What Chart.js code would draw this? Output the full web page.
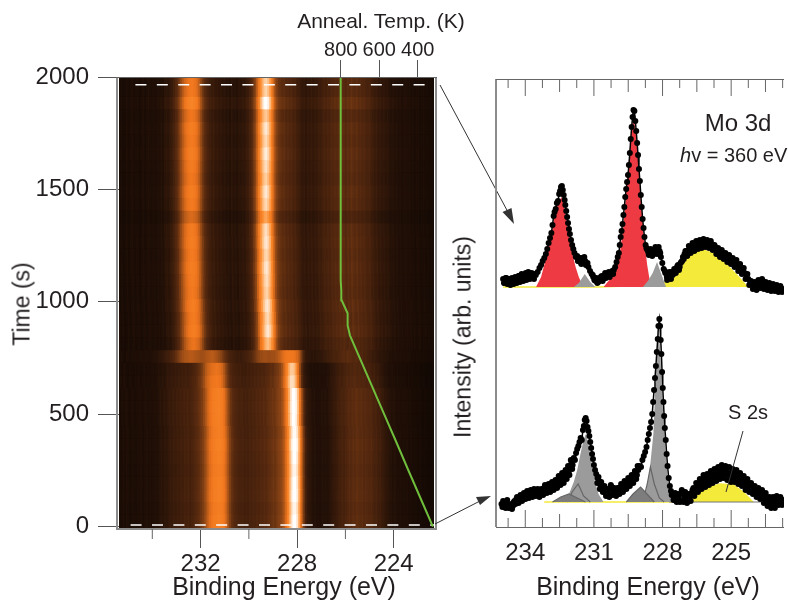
<!DOCTYPE html>
<html>
<head>
<meta charset="utf-8">
<title>Mo 3d anneal</title>
<script src="https://cdn.jsdelivr.net/npm/chart.js@4"></script>
<style>
html, body { margin: 0; padding: 0; background: #fff; overflow: hidden; }
#page { position: relative; width: 788px; height: 600px; overflow: hidden; font-family: "Liberation Sans", Arial, sans-serif; color: #231f20; }
canvas { position: absolute; top: 0; }
#heat { left: 0; }
#spectra { left: 450px; }
.txt { position: absolute; white-space: nowrap; transform: translate(-50%, -50%); }
.rot { transform: translate(-50%, -50%) rotate(-90deg); }
</style>
</head>
<body>
<div id="page">
  <canvas id="heat" width="788" height="600"></canvas>
  <canvas id="spectra" width="338" height="600"></canvas>
  <div class="txt" style="left:381px;top:21px;font-size:21px">Anneal. Temp. (K)</div>
  <div class="txt rot" style="left:22px;top:304px;font-size:23px">Time (s)</div>
  <div class="txt" style="left:284px;top:586px;font-size:25px">Binding Energy (eV)</div>
  <div class="txt rot" style="left:463px;top:337px;font-size:23px">Intensity (arb. units)</div>
  <div class="txt" style="left:648px;top:586px;font-size:25px">Binding Energy (eV)</div>
  <div class="txt" style="left:738px;top:123px;font-size:24px">Mo 3d</div>
  <div class="txt" style="left:680px;top:155px;font-size:20px;transform:translate(0,-50%)"><i>h</i>v = 360 eV</div>
  <div class="txt" style="left:748px;top:412px;font-size:20px">S 2s</div>
</div>
<script>
// left panel: one intensity value per column
const energyColumns = [
  235.380,235.305,235.230,235.155,235.080,235.005,234.930,234.855,234.780,234.705,
  234.630,234.555,234.480,234.405,234.330,234.255,234.180,234.105,234.030,233.955,
  233.880,233.805,233.730,233.655,233.580,233.505,233.430,233.355,233.280,233.205,
  233.130,233.055,232.980,232.905,232.830,232.755,232.680,232.605,232.530,232.455,
  232.380,232.305,232.230,232.155,232.080,232.005,231.930,231.855,231.780,231.705,
  231.630,231.555,231.480,231.405,231.330,231.255,231.180,231.105,231.030,230.955,
  230.880,230.805,230.730,230.655,230.580,230.505,230.430,230.355,230.280,230.205,
  230.130,230.055,229.980,229.905,229.830,229.755,229.680,229.605,229.530,229.455,
  229.380,229.305,229.230,229.155,229.080,229.005,228.930,228.855,228.780,228.705,
  228.630,228.555,228.480,228.405,228.330,228.255,228.180,228.105,228.030,227.955,
  227.880,227.805,227.730,227.655,227.580,227.505,227.430,227.355,227.280,227.205,
  227.130,227.055,226.980,226.905,226.830,226.755,226.680,226.605,226.530,226.455,
  226.380,226.305,226.230,226.155,226.080,226.005,225.930,225.855,225.780,225.705,
  225.630,225.555,225.480,225.405,225.330,225.255,225.180,225.105,225.030,224.955,
  224.880,224.805,224.730,224.655,224.580,224.505,224.430,224.355,224.280,224.205,
  224.130,224.055,223.980,223.905,223.830,223.755,223.680,223.605,223.530,223.455,
  223.380,223.305,223.230,223.155,223.080,223.005,222.930,222.855,222.780,222.705,
  222.630,222.555,222.480,222.405,222.330
];
const profileAnnealed = [
  .10,.12,.09,.11,.13,.10,.12,.14,.11,.12,
  .13,.10,.12,.14,.11,.13,.15,.12,.13,.14,
  .12,.15,.14,.16,.15,.18,.19,.18,.21,.23,
  .26,.30,.33,.40,.47,.54,.60,.64,.67,.69,
  .70,.68,.66,.62,.55,.46,.38,.32,.29,.26,
  .24,.22,.23,.20,.21,.19,.20,.18,.19,.17,
  .18,.16,.19,.17,.18,.16,.19,.18,.20,.19,
  .22,.23,.27,.30,.37,.44,.58,.70,.80,.88,
  .94,.96,.92,.85,.74,.60,.47,.40,.36,.34,
  .32,.33,.30,.31,.29,.30,.27,.28,.25,.24,
  .22,.20,.21,.19,.21,.20,.22,.20,.22,.21,
  .24,.23,.25,.27,.26,.28,.27,.30,.29,.31,
  .30,.32,.31,.33,.32,.30,.33,.31,.34,.32,
  .31,.33,.30,.31,.29,.30,.28,.27,.28,.25,
  .24,.22,.23,.20,.21,.19,.20,.18,.19,.17,
  .16,.17,.15,.16,.14,.15,.13,.14,.15,.13,
  .14,.12,.13,.11,.12,.13,.10,.11,.12,.10,
  .11,.09,.10,.08,.09
];
const profileTransition = [
  .10,.12,.11,.10,.13,.12,.11,.13,.12,.13,
  .13,.12,.14,.13,.14,.15,.13,.14,.15,.16,
  .16,.17,.18,.19,.20,.22,.23,.24,.26,.28,
  .30,.33,.36,.40,.44,.47,.49,.50,.51,.52,
  .52,.51,.50,.49,.48,.47,.47,.48,.50,.51,
  .52,.53,.52,.50,.48,.45,.42,.38,.34,.31,
  .28,.26,.25,.24,.23,.22,.23,.22,.23,.24,
  .25,.26,.28,.30,.33,.36,.40,.43,.45,.46,
  .47,.47,.46,.46,.47,.47,.48,.50,.53,.56,
  .60,.63,.65,.66,.66,.66,.65,.63,.60,.55,
  .44,.32,.24,.20,.19,.18,.17,.18,.17,.18,
  .19,.18,.20,.21,.22,.23,.24,.25,.26,.27,
  .27,.28,.29,.30,.31,.30,.32,.31,.31,.30,
  .30,.31,.29,.28,.29,.27,.27,.25,.24,.23,
  .22,.21,.20,.19,.18,.18,.17,.17,.16,.15,
  .15,.14,.15,.14,.13,.14,.12,.13,.12,.12,
  .12,.11,.11,.10,.11,.10,.10,.09,.10,.09,
  .09,.08,.09,.08,.08
];
const profileInitial = [
  .12,.10,.13,.11,.14,.12,.10,.13,.12,.11,
  .13,.12,.14,.11,.13,.15,.12,.14,.13,.14,
  .15,.14,.16,.18,.17,.19,.18,.20,.22,.21,
  .23,.22,.24,.23,.25,.24,.26,.25,.27,.25,
  .27,.28,.30,.31,.33,.36,.39,.44,.50,.57,
  .62,.65,.68,.69,.70,.71,.70,.68,.64,.57,
  .48,.40,.34,.31,.29,.28,.27,.26,.27,.25,
  .26,.25,.27,.26,.28,.27,.29,.28,.30,.29,
  .31,.30,.32,.33,.34,.36,.35,.38,.40,.42,
  .46,.52,.62,.72,.84,.94,1.0,1.0,.96,.86,
  .68,.50,.34,.24,.20,.18,.17,.15,.16,.14,
  .15,.14,.16,.15,.16,.15,.17,.18,.20,.21,
  .22,.24,.25,.27,.26,.28,.29,.31,.30,.32,
  .31,.33,.32,.31,.32,.30,.31,.30,.29,.30,
  .28,.26,.27,.24,.25,.22,.21,.19,.18,.17,
  .16,.15,.16,.14,.13,.14,.12,.13,.12,.13,
  .11,.12,.10,.11,.10,.09,.10,.09,.08,.09,
  .08,.07,.08,.07,.07
];
const rowEdges = [
  -6,50,106,163,219,275,332,388,444,500,
  557,613,669,725,781,838,894,950,1007,1063,
  1119,1176,1232,1288,1345,1401,1457,1514,1570,1626,
  1683,1739,1795,1852,1908,2000
];
const rowGains = [
  1,.98,1.01,1,.98,1,1.02,.99,1,1.01,
  1,.94,.9,1,.92,1,.97,1,.96,.98,
  1,.97,1,.98,.86,.97,1,.95,.98,1.01,
  .97,1,.94,1.06,.96
];
const rowShifts = [
  0,0,0,0,0,0,0,0,.03,.03,
  .03,.1,.1,0,-.08,-.08,-.07,-.05,-.03,-.03,
  -.02,-.02,-.01,0,0,0,0,0,0,0,
  0,0,0,0,0
];
const timeTicks = [0, 500, 1000, 1500, 2000];
const energyTicks = [232, 228, 224];
const energyMinorTicks = [234, 230, 226];
const tempTicks = [800, 600, 400];
const rampTemp = [321, 383, 448, 513, 580, 752, 764, 764, 795, 797, 800, 800, 800, 800];
const rampTime = [0, 122, 250, 380, 512, 851, 895, 949, 1007, 1051, 1096, 1300, 1700, 2000];
const scanTimes = [1966, 8];

// right panel: measured points, heights above each spectrum's own baseline
const upperEnergy = [
  234.97,234.90,234.83,234.76,234.69,234.62,234.55,234.48,234.41,234.34,
  234.27,234.20,234.13,234.06,233.98,233.91,233.84,233.76,233.69,233.62,
  233.54,233.46,233.38,233.31,233.24,233.17,233.10,233.04,232.98,232.92,
  232.86,232.81,232.76,232.72,232.67,232.62,232.57,232.52,232.48,232.44,
  232.40,232.36,232.32,232.28,232.25,232.21,232.17,232.13,232.09,232.05,
  232.00,231.95,231.90,231.85,231.79,231.73,231.67,231.60,231.53,231.46,
  231.38,231.31,231.24,231.17,231.10,231.03,230.96,230.89,230.81,230.74,
  230.66,230.59,230.51,230.43,230.35,230.27,230.20,230.13,230.07,230.01,
  229.96,229.91,229.87,229.83,229.79,229.75,229.71,229.67,229.63,229.59,
  229.55,229.51,229.47,229.43,229.39,229.35,229.31,229.27,229.23,229.19,
  229.15,229.11,229.07,229.03,228.99,228.95,228.91,228.87,228.83,228.79,
  228.74,228.69,228.63,228.56,228.49,228.42,228.35,228.28,228.20,228.13,
  228.07,228.01,227.95,227.88,227.81,227.74,227.67,227.60,227.53,227.46,
  227.39,227.32,227.25,227.18,227.11,227.04,226.96,226.89,226.81,226.73,
  226.65,226.57,226.49,226.41,226.33,226.25,226.17,226.09,226.01,225.93,
  225.85,225.77,225.69,225.61,225.53,225.45,225.37,225.29,225.21,225.13,
  225.05,224.97,224.89,224.81,224.73,224.65,224.57,224.49,224.41,224.33,
  224.25,224.17,224.09,224.01,223.93,223.85,223.77,223.69,223.61,223.53,
  223.45,223.37,223.29,223.21,223.13,223.05,222.97,222.89,222.81,222.73
];
const upperCounts = [
  8,4,9,5,8,4,7,5,9,7,
  11,8,12,9,14,10,13,9,11,8,
  12,15,19,22,26,29,33,38,44,49,
  54,62,71,75,78,84,86,93,96,100,
  101,97,92,87,82,76,70,64,58,53,
  47,42,38,34,30,31,26,25,29,27,
  26,22,20,16,13,10,7,9,5,8,
  11,8,14,11,15,13,16,17,20,25,
  30,34,42,50,56,63,72,80,90,98,
  105,112,122,134,148,160,170,177,176,166,
  156,144,132,118,106,92,80,68,59,50,
  42,38,35,33,36,34,37,35,38,36,
  30,24,18,14,10,13,11,15,13,17,
  19,22,20,25,30,33,36,34,39,37,
  41,39,43,40,44,41,45,42,44,41,
  43,38,40,35,36,32,34,29,31,27,
  28,24,26,21,23,18,19,15,14,10,
  8,4,2,0,3,-1,5,2,6,1,
  3,-1,2,-3,1,-2,0,-3,-1,-3
];
// scatter of the points around the main trace
const upperExtraEnergy = [
  234.93,234.86,234.79,234.72,234.65,234.58,234.51,234.44,234.37,234.30,
  234.23,234.16,234.09,234.02,233.95,233.87,233.80,233.72,233.65,233.58,
  231.70,231.62,231.55,231.48,231.42,231.35,231.28,231.05,230.98,230.92,
  230.85,230.78,230.70,230.62,230.55,230.47,230.39,230.31,230.24,230.16,
  228.70,228.60,228.52,228.45,228.38,228.31,228.24,228.17,228.10,
  227.90,227.80,227.70,227.63,227.56,227.49,227.42,227.35,227.28,227.21,
  227.14,227.07,227.00,226.92,226.85,226.77,226.69,226.61,226.53,226.45,
  226.37,226.29,226.21,226.13,226.05,225.97,225.89,225.81,225.73,225.65,
  225.57,225.49,225.41,225.33,225.25,225.17,225.09,225.01,224.93,224.85,
  224.77,224.69,224.61,224.53,224.45,224.37,224.29,224.21,224.13,224.05,
  223.97,223.89,223.81,223.73,223.65,223.57,223.49,223.41,223.33,223.25,
  223.17,223.09,223.01,222.93,222.85,222.77
];
const upperExtraCounts = [
  4,9,3,8,2,9,3,10,4,11,
  5,13,6,12,7,15,8,14,9,13,
  26,29,23,28,30,22,24,12,7,6,
  4,6,10,6,10,9,12,10,14,13,
  39,32,38,31,33,40,33,40,34,
  16,7,15,8,12,18,14,21,17,24,
  26,28,36,31,41,34,44,36,46,38,
  47,39,48,40,47,39,46,37,42,33,
  39,30,37,28,34,25,32,23,29,20,
  27,16,23,13,19,8,13,2,6,-2,
  5,-3,7,-1,8,-2,5,-3,4,-4,
  3,-4,2,-5,1,-5
];
const lowerEnergy = [
  235.04,234.97,234.90,234.83,234.76,234.68,234.61,234.54,234.47,234.39,
  234.32,234.25,234.18,234.10,234.03,233.96,233.88,233.80,233.73,233.66,
  233.58,233.50,233.42,233.34,233.26,233.18,233.10,233.02,232.95,232.87,
  232.80,232.72,232.65,232.58,232.50,232.43,232.36,232.28,232.22,232.16,
  232.10,232.04,231.98,231.93,231.88,231.83,231.78,231.73,231.68,231.63,
  231.58,231.53,231.48,231.44,231.40,231.36,231.32,231.28,231.24,231.20,
  231.16,231.12,231.08,231.04,231.00,230.95,230.90,230.85,230.78,230.72,
  230.65,230.58,230.50,230.44,230.37,230.30,230.22,230.15,230.07,230.00,
  229.92,229.85,229.77,229.70,229.62,229.55,229.47,229.40,229.32,229.25,
  229.18,229.12,229.06,229.00,228.94,228.88,228.82,228.76,228.70,228.65,
  228.60,228.55,228.50,228.45,228.41,228.37,228.33,228.29,228.25,228.21,
  228.18,228.14,228.11,228.08,228.05,228.02,227.99,227.96,227.93,227.90,
  227.86,227.82,227.78,227.73,227.68,227.63,227.56,227.49,227.42,227.35,
  227.28,227.20,227.13,227.05,226.97,226.89,226.81,226.73,226.65,226.57,
  226.49,226.41,226.33,226.25,226.17,226.09,226.01,225.93,225.85,225.77,
  225.69,225.61,225.53,225.45,225.37,225.29,225.21,225.13,225.05,224.97,
  224.89,224.81,224.73,224.65,224.57,224.49,224.41,224.33,224.25,224.17,
  224.09,224.01,223.93,223.85,223.77,223.69,223.61,223.53,223.45,223.37,
  223.29,223.21,223.13,223.05,222.97,222.89,222.81,222.73
];
const lowerCounts = [
  -2,1,-3,0,-4,-5,-2,-4,1,3,
  0,4,2,6,4,8,6,9,7,11,
  8,10,7,11,9,14,12,15,11,16,
  14,18,16,21,19,24,21,27,25,32,
  30,36,40,37,44,42,49,53,56,60,
  64,62,72,76,82,84,81,75,71,66,
  60,54,48,43,37,32,28,24,21,17,
  14,12,9,11,8,13,15,10,12,9,
  14,12,17,14,19,17,22,20,25,23,
  29,27,32,36,35,42,46,50,55,62,
  68,74,80,88,100,112,124,136,150,163,
  176,183,176,162,148,130,114,100,86,74,
  62,48,36,24,16,11,7,4,2,6,
  3,8,10,4,7,2,5,9,14,11,
  17,15,20,17,23,19,24,21,27,23,
  28,25,31,27,33,28,32,27,29,24,
  30,25,27,22,26,20,22,16,19,14,
  16,11,13,9,10,6,8,2,5,-2,
  1,-3,2,-2,3,0,3,0
];
const lowerExtraEnergy = [
  235.00,234.93,234.86,234.79,234.72,234.65,234.58,234.50,234.43,234.36,
  234.29,234.21,234.14,234.06,233.99,233.92,233.84,233.76,233.69,233.62,
  233.54,233.46,233.38,233.30,233.22,233.14,233.06,232.98,232.91,232.83,
  232.76,232.68,232.61,232.54,232.46,232.39,232.32,232.24,232.19,232.13,
  232.07,232.01,231.95,
  230.85,230.80,230.74,230.68,230.61,230.54,230.47,230.40,230.33,230.26,
  230.18,230.11,230.03,229.96,229.88,229.81,229.73,229.66,229.58,229.50,
  229.43,229.35,229.28,229.21,229.15,229.09,
  227.60,227.52,227.45,227.38,227.31,227.24,227.16,227.09,227.01,226.93,
  226.85,226.77,226.69,226.61,226.53,226.45,226.37,226.29,226.21,226.13,
  226.05,225.97,225.89,225.81,225.73,225.65,225.57,225.49,225.41,225.33,
  225.25,225.17,225.09,225.01,224.93,224.85,224.77,224.69,224.61,224.53,
  224.45,224.37,224.29,224.21,224.13,224.05,223.97,223.89,223.81,223.73,
  223.65,223.57,223.49,223.41,223.33,223.25,223.17,223.09,223.01,222.93,
  222.85,222.77
];
const lowerExtraCounts = [
  -5,0,-6,2,-6,-3,-7,0,-2,5,
  -1,7,1,9,3,11,4,12,5,13,
  6,13,5,13,7,17,9,18,10,20,
  12,22,14,26,17,29,19,32,23,36,
  27,42,33,
  19,25,13,20,10,16,6,13,5,17,
  7,14,6,14,8,18,10,21,13,24,
  16,27,19,31,23,36,
  7,2,9,0,8,0,12,0,10,-1,
  8,1,12,6,19,10,23,13,27,15,
  28,17,31,19,33,21,35,23,37,24,
  36,22,35,20,33,20,32,18,29,16,
  26,12,23,10,19,8,16,5,14,3,
  12,-1,9,-4,5,-6,5,-6,6,-3,
  5,-3
];

// fitted components, read as outlines
const red1Energy = [233.53,233.31,233.10,232.88,232.74,232.59,232.42,232.31,232.21,232.09,231.95,231.80,231.66,231.49];
const red1Height = [0,10,28,48,68,82,90,82,68,50,34,20,10,1];
const red2Energy = [230.58,230.22,230.00,229.86,229.72,229.61,229.48,229.36,229.26,229.15,229.05,228.93,228.79,228.67,228.57,228.47];
const red2Height = [0,10,22,35,60,88,125,155,170,150,120,80,45,22,8,0];
const greyUp1Energy = [231.88,231.66,231.40,231.16,230.94];
const greyUp1Height = [0,4,13,5,0];
const greyUp2Energy = [228.86,228.64,228.43,228.24,228.07,227.85];
const greyUp2Height = [0,6,14,25,14,0];
const yellowUpEnergy = [234.97,230.80,228.36,227.78,227.35,226.92,226.56,226.20,225.77,225.19,224.76,224.33,224.26];
const yellowUpHeight = [0,0,2,5,13,27,35,37,33,22,12,1,0];

const grey1Energy = [232.45,232.09,231.88,231.73,231.59,231.47,231.36,231.26,231.11,230.97,230.80,230.58];
const grey1Height = [0,8,20,32,48,60,68,60,40,22,8,0];
const grey2Energy = [228.79,228.57,228.40,228.28,228.17,228.10,228.00,227.88,227.78,227.64,227.49];
const grey2Height = [0,30,68,135,172,150,100,55,25,5,0];
const sub1Energy = [232.81,232.45,232.09,231.73,231.37];
const sub1Height = [0,5,8,4,0];
const sub2Energy = [232.16,231.95,231.69,231.45,231.16];
const sub2Height = [0,10,18,6,0];
const sub3Energy = [229.58,229.29,228.96,228.64,228.36];
const sub3Height = [0,8,15,7,0];
const sub4Energy = [228.86,228.67,228.53,228.36,228.14,227.93];
const sub4Height = [0,18,35,18,4,0];
const yellowLowEnergy = [233.17,227.71,226.92,226.49,226.06,225.48,224.91,224.48,224.05];
const yellowLowHeight = [0,0,1,10,14,18,17,10,0];
const baseLowEnergy = [227.71,223.70];
const baseLowHeight = [0,0];

const axisTicks3 = [234, 231, 228, 225];
const axisTicks15 = [232.5, 229.5, 226.5, 223.5];
const axisTicks075 = [234.75, 233.25, 231.75, 230.25, 228.75, 227.25, 225.75, 224.25, 222.75];

const upperBase = 240;
const lowerBase = 25;

// black - brown - orange - white
const stops = [
  [0, 8, 4, 2], [.15, 34, 16, 7], [.3, 84, 40, 15], [.45, 150, 74, 22],
  [.65, 240, 118, 30], [.76, 250, 136, 42], [.88, 255, 190, 130], [1, 255, 255, 255]
];
function heatColor(v) {
  v = Math.max(0, Math.min(1, v));
  for (let i = 1; i < stops.length; i++) {
    if (v <= stops[i][0]) {
      const a = stops[i - 1], b = stops[i];
      const f = (v - a[0]) / (b[0] - a[0]);
      return 'rgb(' + [1, 2, 3].map(k => Math.round(a[k] + (b[k] - a[k]) * f)).join(',') + ')';
    }
  }
  return '#fff';
}

const heatRows = rowGains.map((gain, r) => {
  const profile = r < 13 ? profileInitial : (r === 13 ? profileTransition : profileAnnealed);
  return {
    type: 'bar',
    stack: 'heat',
    order: 5,
    barThickness: 2.4,
    borderWidth: 0,
    data: energyColumns.map(e => ({ x: e + rowShifts[r], y: [rowEdges[r], rowEdges[r + 1] + 2] })),
    backgroundColor: profile.map(v => heatColor(v * gain))
  };
});

function setTicks(list) {
  return scale => { scale.ticks = list.map(v => ({ value: v })); };
}

const heatDecor = {
  id: 'heatDecor',
  beforeDatasetsDraw(chart) {
    const c = chart.ctx, a = chart.chartArea;
    c.save();
    c.fillStyle = '#1f0f06';
    c.fillRect(a.left, a.top, a.right - a.left, a.bottom - a.top);
    c.restore();
  },
  afterDraw(chart) {
    const c = chart.ctx, a = chart.chartArea, xs = chart.scales.x;
    c.save();
    // frame
    c.strokeStyle = '#8c8c8c';
    c.lineWidth = 2;
    c.beginPath();
    c.moveTo(117, a.top);
    c.lineTo(117, 529);
    c.lineTo(436, 529);
    c.lineTo(436, a.top);
    c.stroke();
    c.lineWidth = 1;
    c.strokeStyle = '#666';
    c.beginPath();
    c.moveTo(116, a.top + 0.5);
    c.lineTo(437, a.top + 0.5);
    energyMinorTicks.forEach(v => {
      const px = xs.getPixelForValue(v);
      c.moveTo(px, 529);
      c.lineTo(px, 539);
    });
    c.stroke();
    // arrows over to the spectra
    c.strokeStyle = '#333';
    c.fillStyle = '#333';
    c.lineWidth = 1;
    c.beginPath();
    c.moveTo(440, 85);
    c.lineTo(509, 214);
    c.moveTo(435, 524);
    c.lineTo(480, 501);
    c.stroke();
    c.beginPath();
    c.moveTo(514, 224);
    c.lineTo(502.5, 212);
    c.lineTo(511.5, 208);
    c.closePath();
    c.moveTo(491, 496);
    c.lineTo(476, 497);
    c.lineTo(480, 505);
    c.closePath();
    c.fill();
    c.restore();
  }
};

new Chart(document.getElementById('heat'), {
  type: 'bar',
  data: {
    datasets: [
      {
        type: 'line',
        xAxisID: 'x2',
        order: 1,
        data: rampTemp.map((t, i) => ({ x: t, y: rampTime[i] })),
        borderColor: '#6fbe3c',
        borderWidth: 2,
        pointRadius: 0,
        tension: 0
      },
      ...scanTimes.map((t, i) => ({
        type: 'line',
        order: 2,
        data: [{ x: i === 0 ? 234.70 : 234.90, y: t }, { x: i === 0 ? 222.70 : 222.33, y: t }],
        borderColor: '#ffffff',
        borderWidth: 1.5,
        borderDash: [11, 10.4],
        pointRadius: 0
      })),
      ...heatRows
    ]
  },
  options: {
    responsive: false,
    animation: false,
    events: [],
    layout: { padding: { right: 354 } },
    plugins: { legend: { display: false }, tooltip: { enabled: false } },
    scales: {
      x: {
        type: 'linear',
        reverse: true,
        min: 222.33,
        max: 235.38,
        offset: false,
        afterBuildTicks: setTicks(energyTicks),
        afterFit: s => { s.height = 72; },
        border: { display: false },
        grid: { drawOnChartArea: false, offset: false, tickLength: 20, tickColor: '#555' },
        ticks: { color: '#231f20', font: { family: 'Liberation Sans', size: 24 }, padding: 2, maxRotation: 0, callback: v => String(v) }
      },
      x2: {
        type: 'linear',
        position: 'top',
        reverse: true,
        min: 315.3,
        max: 1951.7,
        offset: false,
        afterBuildTicks: setTicks(tempTicks),
        afterFit: s => { s.height = 77; },
        border: { display: false },
        grid: { drawOnChartArea: false, offset: false, tickLength: 17, tickColor: '#555' },
        ticks: { color: '#231f20', font: { family: 'Liberation Sans', size: 20 }, padding: -2, maxRotation: 0, callback: v => String(v) }
      },
      y: {
        type: 'linear',
        stacked: false,
        beginAtZero: false,
        min: -5.8,
        max: 2000,
        afterBuildTicks: setTicks(timeTicks),
        afterFit: s => { s.width = 119; },
        border: { display: false },
        grid: { drawOnChartArea: false, tickLength: 21, tickColor: '#555' },
        ticks: { color: '#231f20', font: { family: 'Liberation Sans', size: 24 }, padding: 9, callback: v => String(v) }
      }
    }
  },
  plugins: [heatDecor]
});

function curve(energy, height, base) {
  return energy.map((e, i) => ({ x: e, y: base + height[i] }));
}
function area(energy, height, base, fillColor, lineColor, lineWidth) {
  return {
    data: curve(energy, height, base),
    fill: { value: base },
    backgroundColor: fillColor,
    borderColor: lineColor || fillColor,
    borderWidth: lineWidth === undefined ? 0 : lineWidth,
    pointRadius: 0,
    tension: 0
  };
}
function dots(energy, counts, base, joined) {
  return {
    data: curve(energy, counts, base),
    showLine: joined,
    borderColor: '#000',
    borderWidth: 1.5,
    backgroundColor: '#000',
    pointRadius: 3,
    pointBorderWidth: 0,
    fill: false,
    tension: 0
  };
}

const spectraDecor = {
  id: 'spectraDecor',
  beforeDatasetsDraw(chart) {
    const c = chart.ctx, a = chart.chartArea, xs = chart.scales.x;
    c.save();
    c.strokeStyle = '#8c8c8c';
    c.lineWidth = 2;
    c.beginPath();
    c.moveTo(a.left, a.top);
    c.lineTo(a.left, a.bottom);
    c.stroke();
    c.lineWidth = 1;
    c.strokeStyle = '#666';
    c.beginPath();
    c.moveTo(a.left, a.top + 0.5);
    c.lineTo(a.right, a.top + 0.5);
    c.moveTo(a.left, a.bottom + 0.5);
    c.lineTo(a.right, a.bottom + 0.5);
    [[axisTicks3, 17], [axisTicks15, 13], [axisTicks075, 9]].forEach(([list, len]) => {
      list.forEach(v => {
        const px = xs.getPixelForValue(v);
        c.moveTo(px, a.top);
        c.lineTo(px, a.top + len);
        c.moveTo(px, a.bottom);
        c.lineTo(px, a.bottom - len);
      });
    });
    c.stroke();
    c.restore();
  },
  afterDatasetsDraw(chart) {
    const c = chart.ctx;
    // S 2s leader, canvas sits at left 450
    c.save();
    c.strokeStyle = '#333';
    c.lineWidth = 1;
    c.beginPath();
    c.moveTo(743 - 450, 431);
    c.lineTo(726 - 450, 492);
    c.stroke();
    c.restore();
  }
};

new Chart(document.getElementById('spectra'), {
  type: 'line',
  data: {
    datasets: [
      dots(upperEnergy, upperCounts, upperBase, true),
      dots(upperExtraEnergy, upperExtraCounts, upperBase, false),
      dots(lowerEnergy, lowerCounts, lowerBase, true),
      dots(lowerExtraEnergy, lowerExtraCounts, lowerBase, false),
      area(sub1Energy, sub1Height, lowerBase, '#7d7d7d', '#666', 1.2),
      area(sub2Energy, sub2Height, lowerBase, 'rgba(155,155,155,0.6)', '#666', 1.2),
      area(sub3Energy, sub3Height, lowerBase, '#7d7d7d', '#666', 1.2),
      area(sub4Energy, sub4Height, lowerBase, 'rgba(155,155,155,0.6)', '#666', 1.2),
      area(grey1Energy, grey1Height, lowerBase, '#9b9b9b'),
      area(grey2Energy, grey2Height, lowerBase, '#9b9b9b'),
      area(baseLowEnergy, baseLowHeight, lowerBase, '#777', '#777', 1.2),
      area(yellowLowEnergy, yellowLowHeight, lowerBase, '#f4ea3a', '#f4ea3a', 1.5),
      area(greyUp1Energy, greyUp1Height, upperBase, '#9b9b9b'),
      area(greyUp2Energy, greyUp2Height, upperBase, '#9b9b9b'),
      area(red1Energy, red1Height, upperBase, '#ee3b43'),
      area(red2Energy, red2Height, upperBase, '#ee3b43'),
      area(yellowUpEnergy, yellowUpHeight, upperBase, '#f4ea3a', '#f4ea3a', 1.5)
    ]
  },
  options: {
    responsive: false,
    animation: false,
    events: [],
    layout: { padding: { left: 46, top: 79 } },
    plugins: { legend: { display: false }, tooltip: { enabled: false } },
    scales: {
      x: {
        type: 'linear',
        reverse: true,
        min: 222.69,
        max: 235.28,
        afterBuildTicks: setTicks(axisTicks3),
        afterFit: s => { s.height = 73; },
        border: { display: false },
        grid: { display: false },
        ticks: { color: '#231f20', font: { family: 'Liberation Sans', size: 24 }, padding: 4, maxRotation: 0, callback: v => String(v) }
      },
      y: { type: 'linear', display: false, min: 0, max: 448 }
    }
  },
  plugins: [spectraDecor]
});
</script>
</body>
</html>
